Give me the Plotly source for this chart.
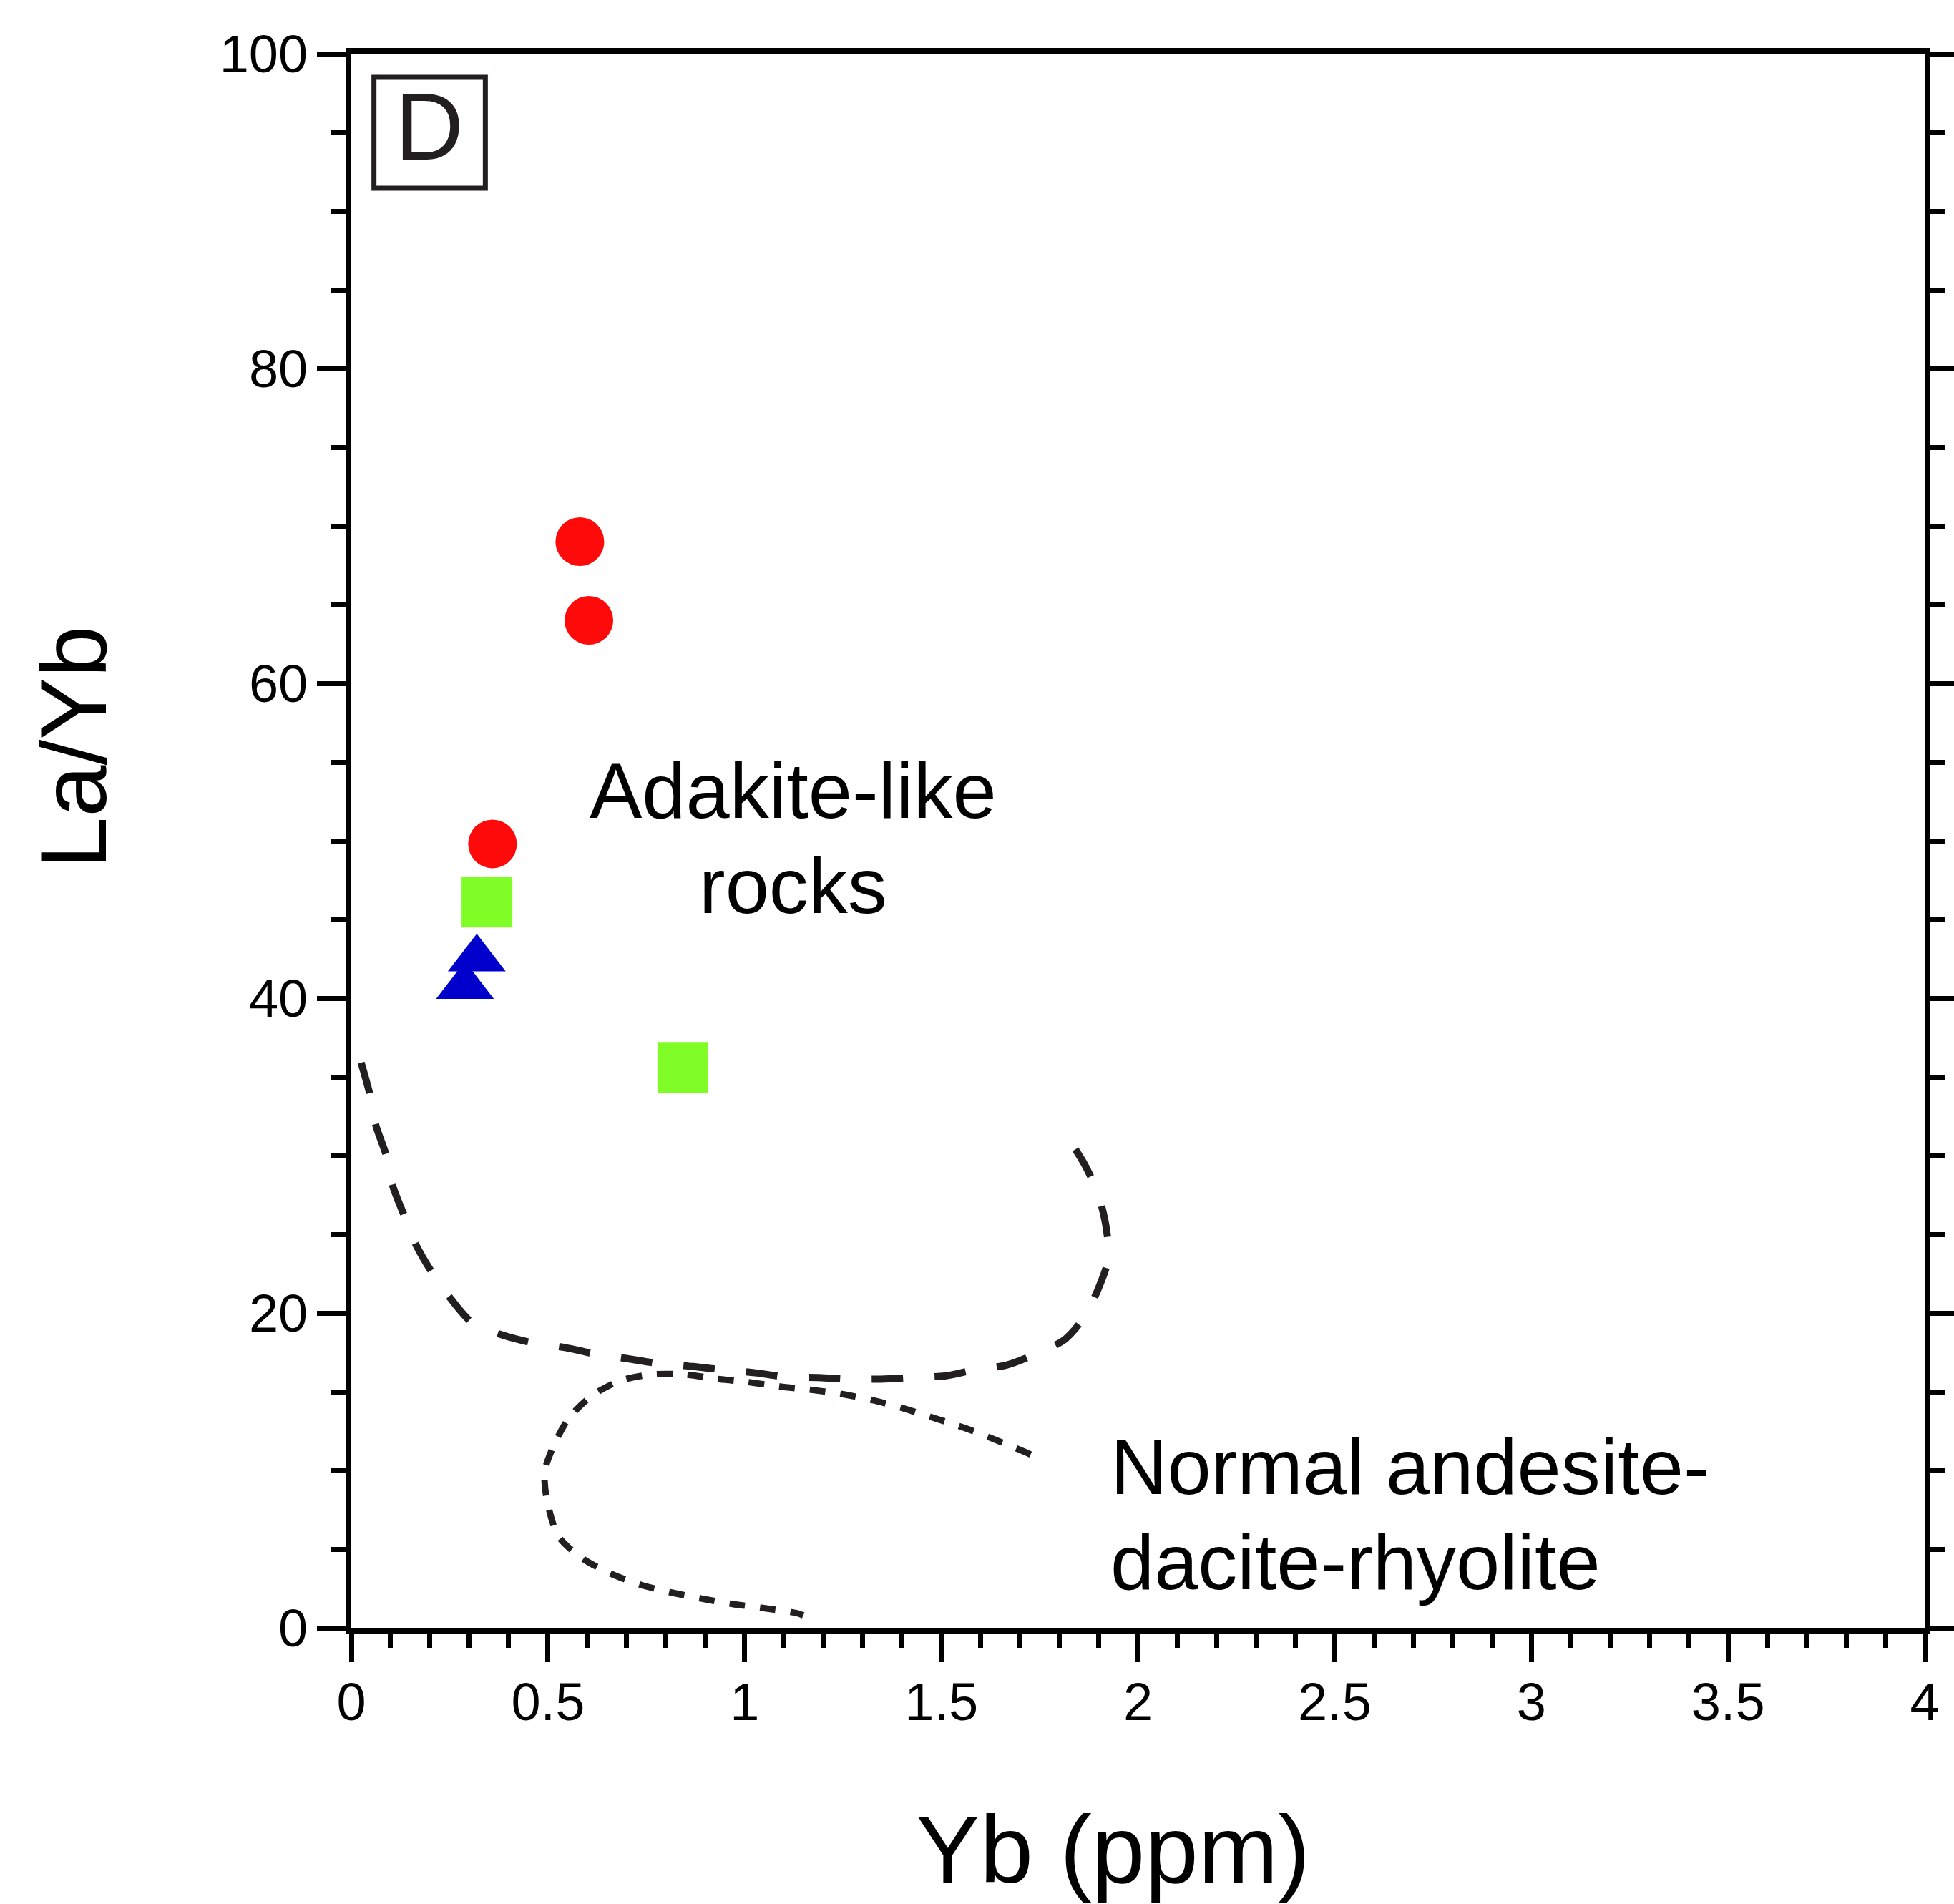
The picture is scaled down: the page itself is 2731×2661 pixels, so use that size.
import plotly.graph_objects as go

# ---------------- data ----------------
# Red circles
yb_circle = [0.581, 0.604, 0.359]
layb_circle = [69.0, 64.0, 49.8]
# Green squares
yb_square = [0.345, 0.843]
layb_square = [46.1, 35.6]
# Blue triangles
yb_triangle = [0.319, 0.289]
layb_triangle = [42.5, 40.75]

# Adakite-like field boundary (long dashed)
adakite_x = [0.025, 0.047, 0.062, 0.089, 0.105, 0.136, 0.165, 0.207, 0.253, 0.307,
             0.384, 0.462, 0.544, 0.618, 0.702, 0.778, 0.869, 0.942, 1.027, 1.102,
             1.189, 1.265, 1.347, 1.425, 1.509, 1.587, 1.667, 1.740, 1.813, 1.865,
             1.900, 1.925, 1.918, 1.898, 1.865, 1.820]
adakite_y = [35.9, 33.9, 31.95, 30.0, 28.1, 26.1, 24.3, 22.5, 20.9, 19.4,
             18.6, 18.1, 17.8, 17.4, 17.1, 16.8, 16.6, 16.4, 16.2, 15.95,
             15.9, 15.8, 15.8, 15.9, 16.0, 16.4, 16.7, 17.4, 18.3, 19.8,
             21.6, 23.5, 25.6, 27.6, 29.4, 31.2]

# Normal andesite-dacite-rhyolite field boundary (short dashed)
normal_x = [1.727, 1.709, 1.637, 1.560, 1.484, 1.403, 1.326, 1.250, 1.166, 1.090,
            1.006, 0.927, 0.851, 0.763, 0.686, 0.614, 0.554, 0.517, 0.492, 0.496,
            0.526, 0.586, 0.659, 0.735, 0.812, 0.892, 0.972, 1.052, 1.136, 1.149]
normal_y = [11.01, 11.21, 11.95, 12.69, 13.31, 13.95, 14.46, 14.84, 15.13, 15.33,
            15.62, 15.82, 16.09, 16.09, 15.72, 14.79, 13.35, 11.70, 9.98, 8.30,
            5.84, 4.44, 3.45, 2.74, 2.25, 1.85, 1.50, 1.24, 0.91, 0.79]

x_tickvals = [0, 0.5, 1, 1.5, 2, 2.5, 3, 3.5, 4]
x_ticktext = ["0", "0.5", "1", "1.5", "2", "2.5", "3", "3.5", "4"]
y_tickvals = [0, 20, 40, 60, 80, 100]
y_ticktext = ["0", "20", "40", "60", "80", "100"]

panel_label = "D"
x_title = "Yb (ppm)"
y_title = "La/Yb"
adakite_label = ["Adakite-like", "rocks"]
normal_label = ["Normal andesite-", "dacite-rhyolite"]

FONT = "Liberation Sans, Arial, Helvetica, sans-serif"
INK = "#231F20"

fig = go.Figure()

fig.add_trace(go.Scatter(
    x=adakite_x, y=adakite_y, mode="lines",
    line=dict(color=INK, width=10, dash="44px,44px", shape="spline", smoothing=0.8),
    showlegend=False, hoverinfo="skip"))
fig.add_trace(go.Scatter(
    x=normal_x, y=normal_y, mode="lines",
    line=dict(color=INK, width=9, dash="22px,21px", shape="spline", smoothing=0.8),
    showlegend=False, hoverinfo="skip"))

fig.add_trace(go.Scatter(
    x=yb_circle, y=layb_circle, mode="markers",
    marker=dict(symbol="circle", size=68, color="#FE0A0A", line=dict(width=0)),
    showlegend=False))
fig.add_trace(go.Scatter(
    x=yb_square, y=layb_square, mode="markers",
    marker=dict(symbol="square", size=71, color="#80FC26", line=dict(width=0)),
    showlegend=False))
fig.add_trace(go.Scatter(
    x=yb_triangle, y=layb_triangle, mode="markers",
    marker=dict(symbol="triangle-up", size=70, color="#0000CD", line=dict(width=0)),
    showlegend=False))

axis_common = dict(
    showline=True, linewidth=8, linecolor="black",
    ticks="outside", ticklen=40, tickwidth=7, tickcolor="black",
    showgrid=False, zeroline=False, automargin=False,
    tickfont=dict(family=FONT, size=74, color="black"),
)

fig.update_xaxes(
    range=[0, 4], tickmode="array", tickvals=x_tickvals, ticktext=x_ticktext,
    mirror=True, ticklabelstandoff=-8,
    minor=dict(dtick=0.1, tick0=0, ticklen=20, tickwidth=7, ticks="outside", tickcolor="black"),
    **axis_common)
fig.update_yaxes(
    range=[0, 100], tickmode="array", tickvals=y_tickvals, ticktext=y_ticktext,
    mirror="ticks", ticklabelstandoff=-2,
    minor=dict(dtick=5, tick0=0, ticklen=20, tickwidth=7, ticks="outside", tickcolor="black"),
    **axis_common)

annotations = [
    dict(text=panel_label, x=0.198, y=95.37, xref="x", yref="y",
         xanchor="center", yanchor="middle", showarrow=False,
         font=dict(family=FONT, size=133, color=INK)),
    dict(text=adakite_label[0], x=1.124, y=53.2, xref="x", yref="y",
         xanchor="center", yanchor="middle", showarrow=False,
         font=dict(family=FONT, size=110, color="black")),
    dict(text=adakite_label[1], x=1.124, y=47.15, xref="x", yref="y",
         xanchor="center", yanchor="middle", showarrow=False,
         font=dict(family=FONT, size=110, color="black")),
    dict(text=normal_label[0], x=1.927, y=10.27, xref="x", yref="y",
         xanchor="left", yanchor="middle", showarrow=False,
         font=dict(family=FONT, size=110, color="black")),
    dict(text=normal_label[1], x=1.927, y=4.2, xref="x", yref="y",
         xanchor="left", yanchor="middle", showarrow=False,
         font=dict(family=FONT, size=110, color="black")),
    dict(text=x_title, x=0.4843, y=-0.1409, xref="paper", yref="paper",
         xanchor="center", yanchor="middle", showarrow=False,
         font=dict(family=FONT, size=134, color="black")),
    dict(text=y_title, x=-0.1767, y=0.5597, xref="paper", yref="paper",
         xanchor="center", yanchor="middle", showarrow=False, textangle=-90,
         font=dict(family=FONT, size=130, color="black")),
]

fig.update_layout(
    width=2731, height=2661,
    margin=dict(l=491, r=41, t=75, b=386, pad=0),
    paper_bgcolor="white", plot_bgcolor="white",
    font=dict(family=FONT, color="black"),
    annotations=annotations,
    shapes=[dict(type="rect", xref="paper", yref="paper",
                 x0=0.0144, x1=0.0852, y0=0.9145, y1=0.985,
                 line=dict(color=INK, width=7), fillcolor="rgba(0,0,0,0)")],
    showlegend=False,
)

fig.write_html("out.html")
